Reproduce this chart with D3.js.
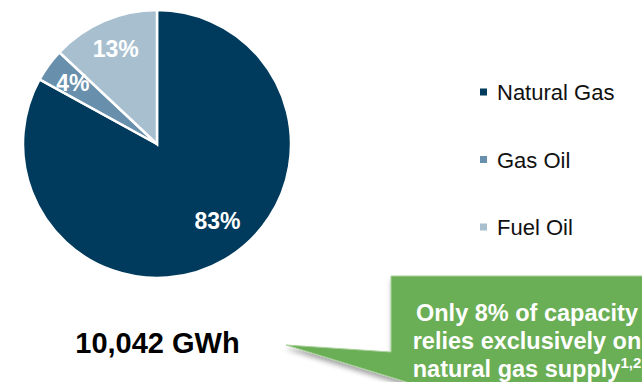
<!DOCTYPE html>
<html>
<head>
<meta charset="utf-8">
<script src="https://cdn.jsdelivr.net/npm/d3@7"></script>
<style>
  html, body { margin: 0; padding: 0; background: #ffffff; }
  svg { display: block; }
  text { font-family: "Liberation Sans", Arial, sans-serif; }
</style>
</head>
<body>
<svg id="chart" width="642" height="382"></svg>
<script>
// ---- data ----
const categories = ["Natural Gas", "Gas Oil", "Fuel Oil"];
const shares = [83, 4, 13];
const sliceLabels = ["83%", "4%", "13%"];
const colors = ["#003A5C", "#6890AD", "#A8BFD0"];
const totalLabel = "10,042 GWh";
const calloutLines = ["Only 8% of capacity", "relies exclusively on", "natural gas supply"];
const calloutSup = "1,2";

const svg = d3.select("#chart");

// ---- pie ----
const cx = 157, cy = 144, R = 134;
const pie = d3.pie().sort(null).value(d => d.v).startAngle(0).endAngle(2 * Math.PI);
const data = categories.map((c, i) => ({ c, v: shares[i], label: sliceLabels[i], color: colors[i] }));
const arcs = pie(data);
const arc = d3.arc().innerRadius(0).outerRadius(R);

const g = svg.append("g").attr("transform", `translate(${cx},${cy})`);
g.selectAll("path.slice").data(arcs).join("path")
  .attr("class", "slice")
  .attr("d", arc)
  .attr("fill", d => d.data.color)
  .attr("stroke", "#ffffff")
  .attr("stroke-width", 2.5)
  .attr("stroke-linejoin", "miter");

const labelRadius = d => d.data.v > 50 ? 98 : 104;
g.selectAll("text.pl").data(arcs).join("text")
  .attr("class", "pl")
  .attr("transform", d => {
    let a = (d.startAngle + d.endAngle) / 2;
    if (d.data.v > 50) a -= 0.13;
    const r = labelRadius(d);
    return `translate(${r * Math.sin(a)},${-r * Math.cos(a)})`;
  })
  .attr("text-anchor", "middle")
  .attr("dy", "0.36em")
  .attr("fill", "#ffffff")
  .attr("font-weight", "bold")
  .attr("font-size", 23)
  .text(d => d.data.label);

// ---- legend ----
const legendY = d3.scalePoint().domain(categories).range([92, 227]);
const lg = svg.append("g");
const items = lg.selectAll("g").data(data).join("g")
  .attr("transform", d => `translate(480,${legendY(d.c)})`);
items.append("rect")
  .attr("x", 0).attr("y", -3.5).attr("width", 7).attr("height", 7)
  .attr("fill", d => d.color);
items.append("text")
  .attr("x", 17).attr("y", 8)
  .attr("font-size", 22)
  .attr("fill", "#111111")
  .text(d => d.c);

// ---- total ----
svg.append("text")
  .attr("x", 157.5).attr("y", 353)
  .attr("text-anchor", "middle")
  .attr("font-weight", "bold")
  .attr("font-size", 29)
  .attr("fill", "#000000")
  .text(totalLabel);

// ---- callout ----
const defs = svg.append("defs");
const f = defs.append("filter").attr("id", "shadow")
  .attr("x", "-20%").attr("y", "-20%").attr("width", "140%").attr("height", "160%");
f.append("feDropShadow").attr("dx", 1).attr("dy", 4).attr("stdDeviation", 2.5)
  .attr("flood-color", "#000").attr("flood-opacity", 0.35);

const tip = [286, 345];
const slope = 0.307;
const yLow = 420;
const calloutPath = d3.path();
calloutPath.moveTo(391, 276);
calloutPath.lineTo(700, 276);
calloutPath.lineTo(700, yLow);
calloutPath.lineTo(tip[0] + (yLow - tip[1]) / slope, yLow);
calloutPath.lineTo(tip[0], tip[1]);
calloutPath.lineTo(391, 352);
calloutPath.closePath();

svg.append("path")
  .attr("d", calloutPath.toString())
  .attr("fill", "#6AAE55")
  .attr("stroke", "#A9D19B")
  .attr("stroke-width", 1)
  .attr("filter", "url(#shadow)");

const ct = svg.append("g");
calloutLines.forEach((line, i) => {
  const t = ct.append("text")
    .attr("x", 527).attr("y", 321 + i * 28)
    .attr("text-anchor", "middle")
    .attr("font-weight", "bold")
    .attr("font-size", 23.5)
    .attr("fill", "#ffffff");
  t.append("tspan").text(line);
  if (i === calloutLines.length - 1) {
    t.append("tspan").attr("font-size", 15).attr("dy", -9).text(calloutSup);
  }
});
</script>
</body>
</html>
